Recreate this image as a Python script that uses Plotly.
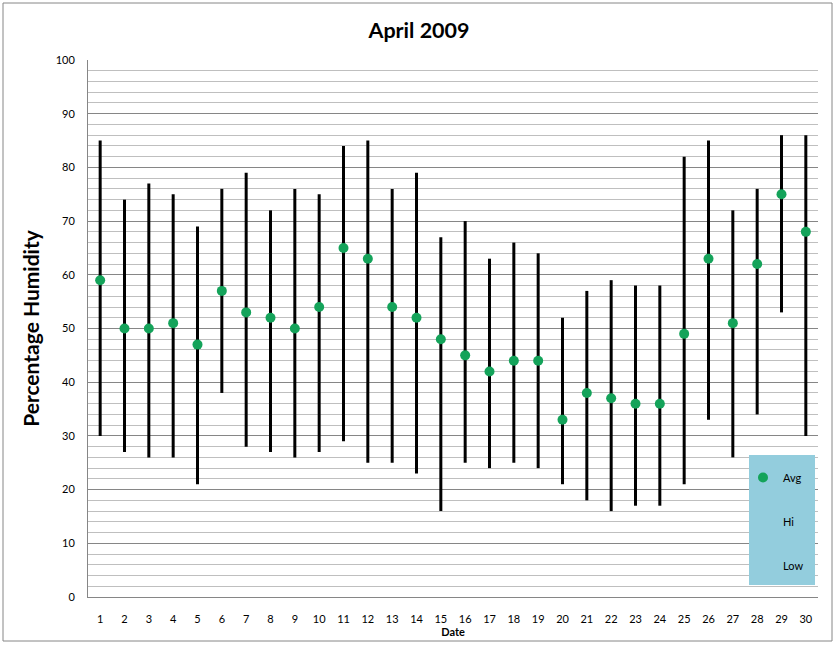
import plotly.graph_objects as go

days = list(range(1, 31))
avg = [59, 50, 50, 51, 47, 57, 53, 52, 50, 54, 65, 63, 54, 52, 48, 45, 42, 44, 44, 33,
       38, 37, 36, 36, 49, 63, 51, 62, 75, 68]
hi = [85, 74, 77, 75, 69, 76, 79, 72, 76, 75, 84, 85, 76, 79, 67, 70, 63, 66, 64, 52,
      57, 59, 58, 58, 82, 85, 72, 76, 86, 86]
low = [30, 27, 26, 26, 21, 38, 28, 27, 26, 27, 29, 25, 25, 23, 16, 25, 24, 25, 24, 21,
       18, 16, 17, 17, 21, 33, 26, 34, 53, 30]
y_ticks = list(range(0, 101, 10))

FONT = "Lato"

# high-low lines built from the data
lx, ly = [], []
for d, h, l in zip(days, hi, low):
    lx += [d, d, None]
    ly += [l, h, None]

fig = go.Figure()
fig.add_trace(go.Scatter(x=lx, y=ly, mode="lines", line=dict(color="black", width=3),
                         showlegend=False, hoverinfo="skip"))
fig.add_trace(go.Scatter(x=days, y=avg, mode="markers", name="Avg",
                         marker=dict(color="#14A35A", size=10), legendgroup="a"))
fig.add_trace(go.Scatter(x=days, y=hi, mode="markers", name="Hi",
                         marker=dict(color="rgba(0,0,0,0)", size=1), legendgroup="b"))
fig.add_trace(go.Scatter(x=days, y=low, mode="markers", name="Low",
                         marker=dict(color="rgba(0,0,0,0)", size=1), legendgroup="c"))

PW, PH, L, T = 730, 537, 88, 60
def px(x):
    return (x - L) / PW
def py(y):
    return (T + PH - y) / PH

fig.update_layout(
    width=838, height=647,
    margin=dict(l=88, r=20, t=60, b=50, autoexpand=False),
    paper_bgcolor="white", plot_bgcolor="white",
    font=dict(family=FONT, color="black", size=11),
    title=dict(text="<b>April 2009</b>", x=0.5, xanchor="center", y=0.953, yanchor="middle",
               font=dict(size=21.5, family=FONT), automargin=False),
    showlegend=True,
    legend=dict(x=px(743), xanchor="left", y=py(463), yanchor="top",
                bgcolor="rgba(0,0,0,0)", borderwidth=0, itemwidth=30,
                tracegroupgap=25, font=dict(size=11), traceorder="grouped"),
    xaxis=dict(range=[0.5, 30.5], tickmode="array", tickvals=days, automargin=False,
               ticktext=[str(d) for d in days], showgrid=False, zeroline=False,
               showline=True, linecolor="#868686", linewidth=1, ticks="",
               ticklabelstandoff=12,
               title=dict(text="<b>Date</b>", font=dict(size=11), standoff=3)),
    yaxis=dict(range=[0, 100], tickvals=y_ticks, showgrid=True, gridcolor="#868686",
               gridwidth=1, zeroline=False, showline=True, linecolor="#868686",
               linewidth=1, ticks="", ticklabelstandoff=10, automargin=False,
               minor=dict(dtick=2, showgrid=True, gridcolor="#BFBFBF", gridwidth=1),
               title=dict(text="<b>Percentage Humidity</b>", font=dict(size=21), standoff=10)),
    shapes=[
        dict(type="rect", xref="paper", yref="paper",
             x0=px(3), x1=px(832), y0=py(641), y1=py(3),
             line=dict(color="#868686", width=1), fillcolor="rgba(0,0,0,0)", layer="below"),
        dict(type="rect", xref="paper", yref="paper",
             x0=px(749), x1=px(815), y0=py(585), y1=py(455),
             line=dict(width=0), fillcolor="#93CDDD", layer="above"),
    ],
)

fig.write_html("out.html", post_script="document.body.style.margin='0';",
               config={"displayModeBar": False})
